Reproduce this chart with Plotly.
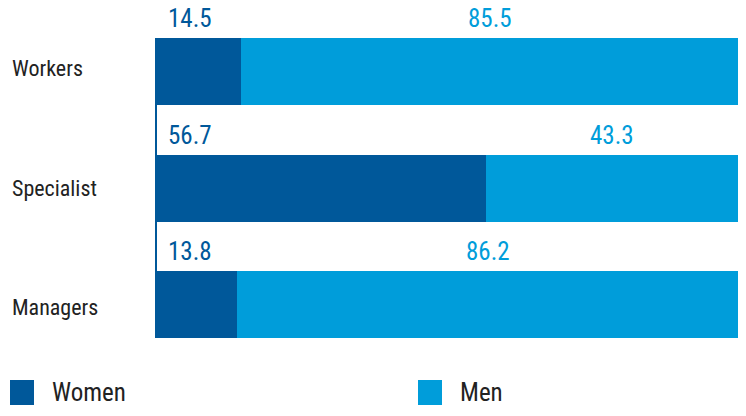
import plotly.graph_objects as go

categories = ["Workers", "Specialist", "Managers"]
women = [14.5, 56.7, 13.8]
men = [85.5, 43.3, 86.2]

women_color = "#00589A"
men_color = "#009DDA"
text_color = "#222222"
font_family = "'Roboto Condensed', Roboto, sans-serif"

ypos = list(range(len(categories)))
bar_w = 0.575

# plot area size in px (746 - 157 - 8, 416 - 38 - 78)
pw, ph = 581, 300

fig = go.Figure()
fig.add_trace(go.Bar(y=ypos, x=women, orientation="h", width=bar_w,
                     marker=dict(color=women_color, line=dict(width=0)),
                     name="Women", showlegend=False, hoverinfo="skip"))
fig.add_trace(go.Bar(y=ypos, x=men, orientation="h", width=bar_w,
                     marker=dict(color=men_color, line=dict(width=0)),
                     name="Men", showlegend=False, hoverinfo="skip"))

annotations = []
for i, cat in enumerate(categories):
    top = i - bar_w / 2
    # value labels sit just above each bar
    annotations.append(dict(x=0, y=top, xref="x", yref="y", text=f"{women[i]:.1f}",
                            showarrow=False, xanchor="left", yanchor="bottom",
                            xshift=9, yshift=3,
                            font=dict(family=font_family, size=25, color=women_color)))
    annotations.append(dict(x=women[i] + men[i] / 2, y=top, xref="x", yref="y",
                            text=f"{men[i]:.1f}", showarrow=False,
                            xanchor="center", yanchor="bottom", yshift=3,
                            font=dict(family=font_family, size=25, color=men_color)))
    # category names, left aligned at the page edge
    annotations.append(dict(x=-147 / pw, y=i, xref="paper", yref="y", text=cat,
                            showarrow=False, xanchor="left", yanchor="middle",
                            yshift=(1 - i) * 3,
                            font=dict(family=font_family, size=22, color=text_color)))

# hand-made legend (bigger swatches than plotly's own)
legend_items = [("Women", women_color, -147 / pw), ("Men", men_color, 261 / pw)]
shapes = []
for name, col, lx in legend_items:
    shapes.append(dict(type="rect", xref="paper", yref="paper",
                       x0=lx, x1=lx + 24 / pw, y0=-42 / ph, y1=-67 / ph,
                       fillcolor=col, line=dict(width=0)))
    annotations.append(dict(x=lx + 40 / pw, y=-54.5 / ph, xref="paper", yref="paper",
                            text=name, showarrow=False, xanchor="left", yanchor="middle",
                            font=dict(family=font_family, size=25, color=text_color)))

fig.update_layout(
    barmode="stack",
    width=746, height=416,
    margin=dict(l=157, r=8, t=38, b=78),
    paper_bgcolor="white", plot_bgcolor="white",
    xaxis=dict(range=[0, 100], showgrid=False, showticklabels=False,
               zeroline=False, showline=False, fixedrange=True),
    yaxis=dict(range=[len(categories) - 1 + bar_w / 2, -bar_w / 2],
               showgrid=False, showticklabels=False, zeroline=False,
               showline=True, linecolor=women_color, linewidth=2, ticks=""),
    annotations=annotations,
    shapes=shapes,
    showlegend=False,
)

fig.write_html("out.html", config={"displayModeBar": False},
               post_script="document.body.style.margin='0';")
